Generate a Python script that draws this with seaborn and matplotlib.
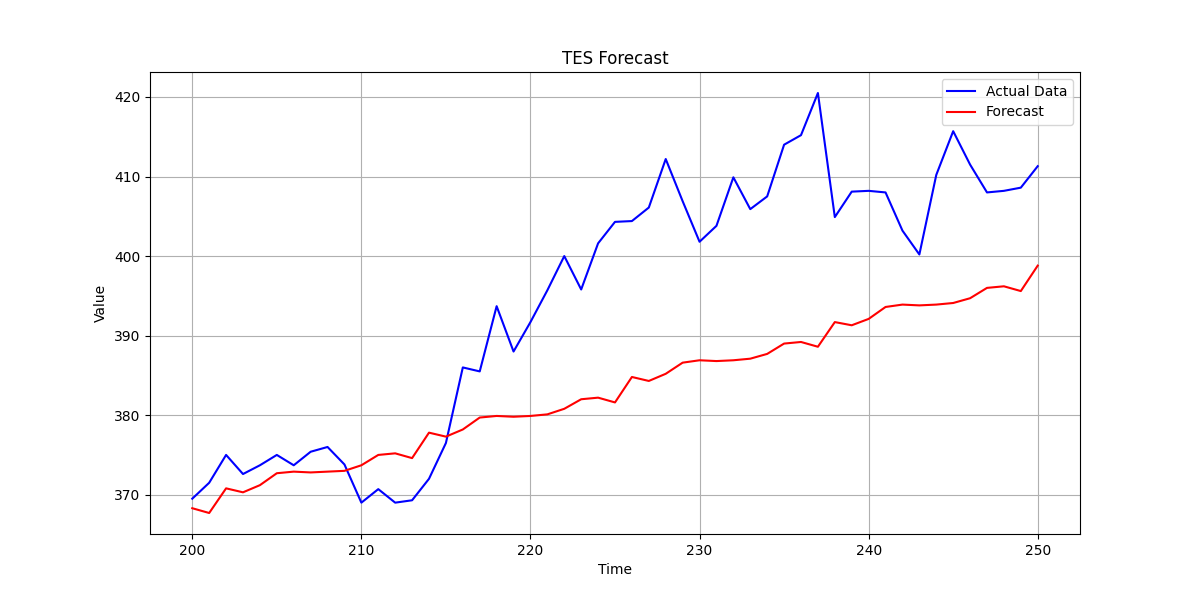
import matplotlib
matplotlib.use("Agg")
import matplotlib.pyplot as plt
import numpy as np
import seaborn as sns

time = np.arange(200, 251)
actual = [369.5, 371.5, 375.0, 372.6, 373.7, 375.0, 373.7, 375.4, 376.0, 373.8,
          369.0, 370.7, 369.0, 369.3, 372.0, 376.5, 386.0, 385.5, 393.7, 388.0,
          391.7, 395.7, 400.0, 395.8, 401.6, 404.3, 404.4, 406.1, 412.2, 406.9,
          401.8, 403.8, 409.9, 405.9, 407.5, 414.0, 415.2, 420.5, 404.9, 408.1,
          408.2, 408.0, 403.2, 400.2, 410.2, 415.7, 411.5, 408.0, 408.2, 408.6,
          411.3]
forecast = [368.3, 367.7, 370.8, 370.3, 371.2, 372.7, 372.9, 372.8, 372.9, 373.0,
            373.7, 375.0, 375.2, 374.6, 377.8, 377.3, 378.2, 379.7, 379.9, 379.8,
            379.9, 380.1, 380.8, 382.0, 382.2, 381.6, 384.8, 384.3, 385.2, 386.6,
            386.9, 386.8, 386.9, 387.1, 387.7, 389.0, 389.2, 388.6, 391.7, 391.3,
            392.1, 393.6, 393.9, 393.8, 393.9, 394.1, 394.7, 396.0, 396.2, 395.6,
            398.8]

fig, ax = plt.subplots(figsize=(12, 6), dpi=100)
sns.lineplot(x=time, y=actual, color="blue", label="Actual Data", ax=ax)
sns.lineplot(x=time, y=forecast, color="red", label="Forecast", ax=ax)
ax.set_title("TES Forecast")
ax.set_xlabel("Time")
ax.set_ylabel("Value")
ax.grid(True)
ax.legend(loc="upper right")
fig.savefig("out.png")
